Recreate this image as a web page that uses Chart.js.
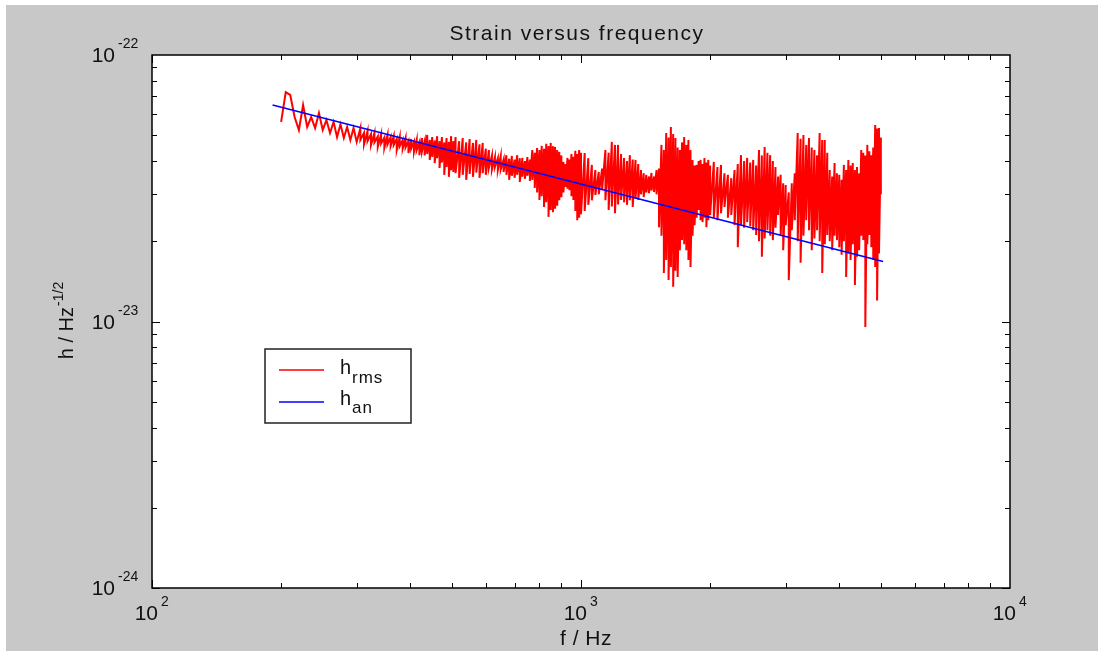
<!DOCTYPE html>
<html>
<head>
<meta charset="utf-8">
<script src="https://cdn.jsdelivr.net/npm/chart.js@4"></script>
<style>
  html, body { margin: 0; padding: 0; background: #fff; }
  #c { display: block; }
</style>
</head>
<body>
<canvas id="c" width="1104" height="655"></canvas>
<script>
// measured strain h_rms (units of 1e-23): upper and lower extent of the trace at each frequency (Hz)
const fRms = [
  200, 205, 210, 215, 220, 225, 230, 235, 240, 245, 250, 255, 260, 265, 270, 275, 280, 285, 290, 295, 300,
  306, 312, 318, 324, 330, 336, 342, 348, 354, 360, 366, 372, 378, 384, 390, 396, 402, 408, 414, 420,
  426, 432, 438, 444, 450, 456, 462, 468, 474, 480, 486, 492, 498, 504,
  510, 520, 530, 540, 550, 560, 570, 580, 590, 600, 610, 620, 630, 640, 650, 660, 670, 680, 690, 700,
  710, 720, 730, 740, 750, 760, 770, 780, 790, 800, 810, 820, 830, 840, 850, 860, 870, 880, 890, 900,
  910, 920, 930, 940, 950, 960, 970, 980, 990, 1000,
  1020, 1040, 1060, 1080, 1100, 1120, 1140, 1160, 1180, 1200, 1220, 1240, 1260, 1280, 1300, 1320, 1340,
  1360, 1380, 1400, 1420, 1440, 1460, 1480, 1500, 1520, 1540, 1560, 1580, 1600, 1620, 1640, 1660, 1680,
  1700, 1720, 1740, 1760, 1780, 1800, 1820, 1840, 1860, 1880, 1900, 1920, 1940, 1960, 1980, 2000,
  2040, 2080, 2120, 2160, 2200, 2240, 2280, 2320, 2360, 2400, 2440, 2480, 2520, 2560, 2600, 2640, 2680,
  2720, 2760, 2800, 2840, 2880, 2920, 2960, 3000,
  3050, 3100, 3150, 3200, 3250, 3300, 3350, 3400, 3450, 3500, 3550, 3600, 3650, 3700, 3750, 3800, 3850,
  3900, 3950, 4000, 4050, 4100, 4150, 4200, 4250, 4300, 4350, 4400, 4450, 4500, 4550, 4600, 4650, 4700,
  4750, 4800, 4850, 4900, 4950, 5000
];
const hRmsHigh = [
  5.61, 7.26, 7.08, 5.85, 5.23, 6.49, 5.37, 5.85, 5.32, 6.06, 5.23, 5.70, 5.10, 5.61, 4.92, 5.50, 4.88, 5.37, 4.80, 5.32, 4.72,
  5.32, 5.10, 5.18, 5.05, 5.10, 4.95, 5.05, 4.90, 5.01, 4.92, 4.96, 4.85, 4.92, 4.80, 4.88, 4.75, 4.84, 4.72, 4.80, 4.70,
  4.88, 4.75, 5.01, 4.80, 4.92, 4.78, 4.96, 4.75, 4.92, 4.70, 4.88, 4.72, 4.96, 4.75,
  4.92, 4.75, 4.88, 4.70, 4.84, 4.68, 4.80, 4.62, 4.68, 4.45, 4.40, 4.20, 4.14, 4.10, 4.18, 4.05, 4.21, 4.08, 4.18, 4.05,
  4.21, 4.10, 4.11, 4.00, 4.14, 4.05, 4.40, 4.30, 4.48, 4.40, 4.56, 4.45, 4.64, 4.55, 4.68, 4.55, 4.52, 4.40, 4.33, 4.20,
  3.97, 3.90, 4.11, 4.05, 4.25, 4.15, 4.37, 4.25, 4.40, 4.30,
  4.29, 4.10, 3.87, 3.70, 3.64, 3.75, 4.40, 4.30, 4.72, 4.60, 4.60, 4.25, 4.11, 4.00, 4.21, 4.05, 4.04,
  3.90, 3.70, 3.60, 3.55, 3.50, 3.61, 3.50, 3.70, 3.75, 4.60, 4.40, 5.10, 4.90, 5.37, 5.05, 4.88, 4.50,
  4.40, 4.70, 4.92, 4.60, 4.80, 4.40, 4.04, 3.85, 3.87, 4.00, 4.04, 3.90, 4.11, 3.95, 4.04, 3.85,
  3.97, 3.80, 3.87, 3.60, 3.55, 3.45, 3.70, 3.90, 4.21, 4.00, 4.11, 3.95, 4.04, 3.85, 4.40, 4.20, 4.52,
  4.30, 4.21, 4.00, 3.80, 3.50, 3.55, 3.30, 3.25,
  3.05, 3.30, 3.60, 5.10, 4.85, 5.01, 4.60, 4.88, 4.50, 4.40, 4.20, 5.10, 4.80, 4.80, 4.30, 3.70, 3.50,
  3.93, 3.60, 3.55, 3.40, 3.87, 3.70, 4.04, 3.85, 3.93, 3.70, 3.80, 3.60, 4.40, 4.30, 4.20, 4.60, 4.35,
  4.21, 4.50, 5.46, 5.30, 5.32, 4.90
];
const hRmsLow = [
  5.61, 7.26, 7.08, 5.85, 5.23, 6.49, 5.37, 5.85, 5.32, 6.06, 5.23, 5.70, 5.10, 5.61, 4.92, 5.50, 4.88, 5.37, 4.80, 5.32, 4.72,
  4.80, 4.62, 4.75, 4.60, 4.70, 4.52, 4.65, 4.48, 4.62, 4.55, 4.60, 4.40, 4.55, 4.45, 4.50, 4.29, 4.45, 4.33, 4.40, 4.21,
  4.35, 4.20, 4.25, 4.04, 4.15, 3.93, 4.10, 3.77, 3.95, 3.55, 3.80, 3.49, 3.70, 3.64,
  3.60, 3.46, 3.55, 3.40, 3.58, 3.49, 3.62, 3.46, 3.60, 3.55, 3.77, 3.72, 3.80, 3.70, 3.72, 3.64, 3.55, 3.40, 3.52, 3.46,
  3.55, 3.34, 3.50, 3.43, 3.52, 3.37, 3.40, 3.17, 3.05, 2.86, 2.95, 2.69, 2.80, 2.47, 2.62, 2.57, 2.65, 2.72, 2.85, 2.93,
  3.05, 3.20, 3.15, 3.11, 2.95, 2.86, 2.60, 2.40, 2.45, 2.53,
  2.60, 2.74, 2.85, 2.98, 3.00, 3.11, 2.85, 2.62, 2.70, 2.55, 2.75, 2.86, 2.80, 2.74, 2.85, 2.69, 2.90,
  2.86, 3.00, 2.93, 3.05, 3.03, 3.10, 3.06, 3.00, 2.26, 2.10, 1.52, 1.70, 1.43, 1.60, 1.35, 1.55, 1.47,
  1.85, 2.02, 1.95, 1.85, 1.70, 1.60, 2.10, 2.30, 2.45, 2.62, 2.40, 2.36, 2.45, 2.26, 2.40, 2.51,
  2.45, 2.40, 2.55, 2.69, 2.45, 2.51, 2.30, 1.90, 2.30, 2.25, 2.36, 2.28, 2.20, 2.11, 2.00, 1.75, 2.05,
  2.20, 2.10, 2.02, 2.25, 2.51, 2.10, 1.85, 2.30,
  1.43, 2.20, 2.40, 2.00, 1.66, 2.10, 2.40, 2.20, 1.85, 2.05, 2.20, 2.00, 1.52, 1.95, 2.11, 2.00, 1.85,
  2.10, 2.02, 1.90, 1.78, 2.00, 1.47, 1.80, 1.70, 1.95, 1.37, 1.75, 1.85, 2.10, 2.02, 0.954, 1.95, 2.11,
  1.90, 1.70, 1.60, 1.20, 1.80, 3.00
];
// analytic strain h_an (units of 1e-23): straight line on log-log axes
const fAn = [191, 5060];
const hAn = [6.49, 1.68];

const xMajor = [1e2, 1e3, 1e4];
const xExp = ['2', '3', '4'];
const yMajor = [1e-22, 1e-23, 1e-24];
const yExp = ['-22', '-23', '-24'];

const FONT = '"Liberation Sans", Arial, sans-serif';

// each frequency bin becomes a vertical stroke from high to low, like a densely sampled trace
function rmsPoints() {
  const out = [];
  fRms.forEach((f, i) => {
    out.push({ x: f, y: hRmsHigh[i] * 1e-23 });
    if (hRmsLow[i] !== hRmsHigh[i]) out.push({ x: f, y: hRmsLow[i] * 1e-23 });
  });
  return out;
}

function line(ctx, x1, y1, x2, y2) {
  ctx.beginPath();
  ctx.moveTo(x1, y1);
  ctx.lineTo(x2, y2);
  ctx.stroke();
}

const matlabFrame = {
  id: 'matlabFrame',
  beforeDraw(chart) {
    const { ctx, chartArea: a } = chart;
    ctx.save();
    ctx.fillStyle = '#fff';
    ctx.fillRect(0, 0, chart.width, chart.height);
    ctx.fillStyle = '#c8c8c8';
    ctx.fillRect(6, 5, 1092, 646);
    ctx.fillStyle = '#fff';
    ctx.fillRect(a.left, a.top, a.right - a.left, a.bottom - a.top);
    ctx.restore();
  },
  afterDraw(chart) {
    const { ctx, chartArea: a } = chart;
    const xs = chart.scales.x, ys = chart.scales.y;
    ctx.save();
    ctx.strokeStyle = '#000';
    ctx.lineWidth = 1.5;
    ctx.strokeRect(a.left, a.top, a.right - a.left, a.bottom - a.top);

    // inward ticks on all four sides
    ctx.lineWidth = 1;
    for (let d = 100; d < 10000; d *= 10) {
      for (let m = 1; m <= 9; m++) {
        const px = Math.round(xs.getPixelForValue(m * d)) + 0.5;
        const len = m === 1 ? 8 : 5;
        line(ctx, px, a.bottom, px, a.bottom - len);
        line(ctx, px, a.top, px, a.top + len);
      }
    }
    for (let d = 1e-24; d < 1e-22 * 0.99; d *= 10) {
      for (let m = 1; m <= 9; m++) {
        const py = Math.round(ys.getPixelForValue(m * d)) + 0.5;
        const len = m === 1 ? 8 : 5;
        line(ctx, a.left, py, a.left + len, py);
        line(ctx, a.right, py, a.right - len, py);
      }
    }

    ctx.fillStyle = '#111';
    ctx.textBaseline = 'alphabetic';
    // x tick labels 10^n
    xMajor.forEach((v, i) => {
      const px = xs.getPixelForValue(v);
      ctx.font = '21px ' + FONT;
      ctx.textAlign = 'right';
      ctx.fillText('10', px + 6, 620);
      ctx.font = '14px ' + FONT;
      ctx.textAlign = 'left';
      ctx.fillText(xExp[i], px + 9, 606);
    });
    // y tick labels 10^n
    yMajor.forEach((v, i) => {
      const py = ys.getPixelForValue(v);
      ctx.font = '21px ' + FONT;
      ctx.textAlign = 'right';
      ctx.fillText('10', 115, py + 7);
      ctx.font = '14px ' + FONT;
      ctx.textAlign = 'left';
      ctx.fillText(yExp[i], 118, py - 7);
    });

    // title and axis labels
    ctx.textAlign = 'center';
    ctx.font = '21px ' + FONT;
    ctx.letterSpacing = '1.5px';
    ctx.fillText('Strain versus frequency', 577, 40);
    ctx.letterSpacing = '0.5px';
    ctx.fillText('f / Hz', 586, 645);
    ctx.letterSpacing = '0px';

    ctx.save();
    ctx.translate(73, 321);
    ctx.rotate(-Math.PI / 2);
    ctx.font = '20px ' + FONT;
    const w1 = ctx.measureText('h / Hz').width;
    ctx.font = '14px ' + FONT;
    const w2 = ctx.measureText('-1/2').width;
    const x0 = -(w1 + w2) / 2;
    ctx.textAlign = 'left';
    ctx.font = '20px ' + FONT;
    ctx.fillText('h / Hz', x0, 0);
    ctx.font = '14px ' + FONT;
    ctx.fillText('-1/2', x0 + w1 + 1, -10);
    ctx.restore();

    // legend box
    ctx.fillStyle = '#fff';
    ctx.fillRect(265, 349, 146, 74);
    ctx.strokeStyle = '#222';
    ctx.lineWidth = 1.5;
    ctx.strokeRect(265, 349, 146, 74);
    ctx.strokeStyle = '#ff0000';
    line(ctx, 279, 370, 324, 370);
    ctx.strokeStyle = '#0000ff';
    line(ctx, 279, 402, 324, 402);
    ctx.fillStyle = '#111';
    ctx.textAlign = 'left';
    ctx.font = '20px ' + FONT;
    ctx.fillText('h', 340, 374);
    ctx.fillText('h', 340, 405);
    ctx.font = '17px ' + FONT;
    ctx.letterSpacing = '1px';
    ctx.fillText('rms', 352, 383);
    ctx.fillText('an', 352, 413);
    ctx.letterSpacing = '0px';
    ctx.restore();
  }
};

new Chart(document.getElementById('c'), {
  type: 'scatter',
  data: {
    datasets: [
      {
        label: 'h_an',
        data: fAn.map((f, i) => ({ x: f, y: hAn[i] * 1e-23 })),
        showLine: true,
        borderColor: '#0000ff',
        borderWidth: 1.6,
        pointRadius: 0,
        tension: 0,
        order: 0
      },
      {
        label: 'h_rms',
        data: rmsPoints(),
        showLine: true,
        borderColor: '#ff0000',
        borderWidth: 2,
        pointRadius: 0,
        tension: 0,
        order: 1
      }
    ]
  },
  options: {
    responsive: false,
    animation: false,
    devicePixelRatio: 1,
    layout: { padding: { left: 152, top: 55, right: 94, bottom: 67 } },
    plugins: {
      legend: { display: false },
      title: { display: false },
      tooltip: { enabled: false }
    },
    scales: {
      x: { type: 'logarithmic', min: 100, max: 10000, display: false },
      y: { type: 'logarithmic', min: 1e-24, max: 1e-22, display: false }
    }
  },
  plugins: [matlabFrame]
});
</script>
</body>
</html>
